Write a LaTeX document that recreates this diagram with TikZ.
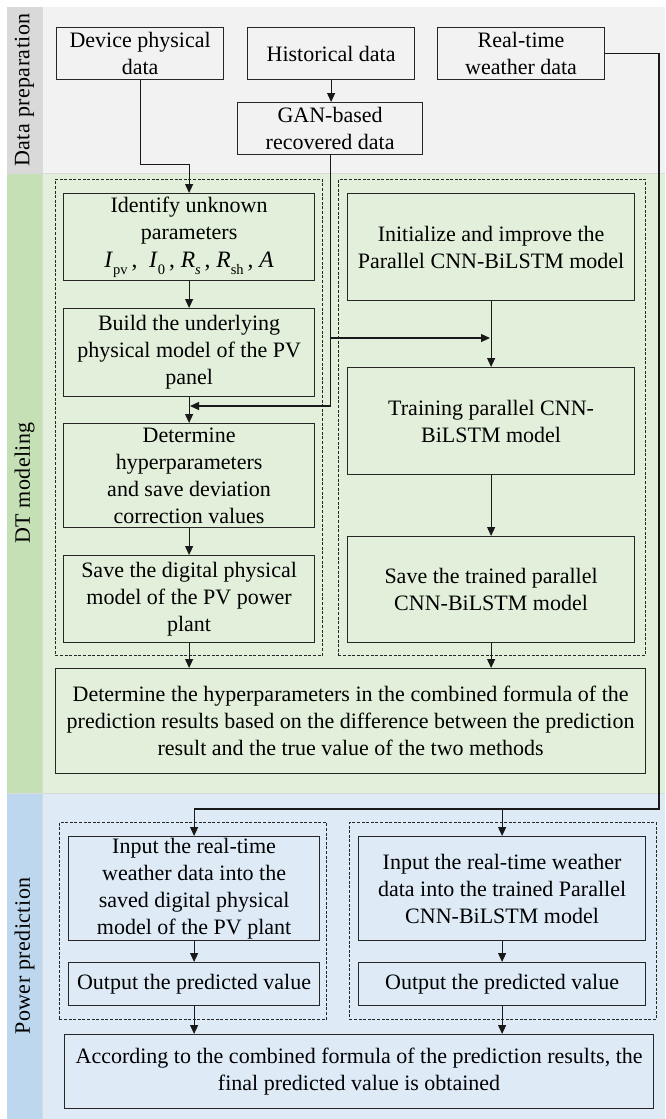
\documentclass[tikz,border=0pt]{standalone}
\usepackage{fontspec}
\setmainfont{Liberation Serif}
\usetikzlibrary{arrows.meta}

\definecolor{prepband}{HTML}{D9D9D9}
\definecolor{prepfill}{HTML}{F2F2F2}
\definecolor{dtband}{HTML}{C5E0B4}
\definecolor{dtfill}{HTML}{E2EFDA}
\definecolor{ppband}{HTML}{BDD7EE}
\definecolor{ppfill}{HTML}{DEEBF7}
\definecolor{edge}{HTML}{262626}

% lowered subscript for the parameter names
\newcommand{\lowsub}[1]{\raisebox{-0.32em}{\fontsize{14.5}{14.5}\selectfont #1}}

\begin{document}
\begin{tikzpicture}[x=1pt,y=-1pt,
  every node/.style={font=\fontsize{22}{27}\selectfont},
  stage/.style={draw=edge, line width=1.2pt, inner sep=1pt, align=center, anchor=north west},
  group/.style={draw=black!85, dash pattern=on 3pt off 1.6pt, line width=0.7pt, inner sep=0pt, anchor=north west},
  wire/.style={draw=black!90, line width=1.1pt},
  flow/.style={wire, -{Triangle[length=9pt,width=8pt]}},
  band/.style={font=\fontsize{22}{22}\selectfont\addfontfeature{LetterSpace=2}, rotate=90},
]
\useasboundingbox (0,0) rectangle (665,1119);

% section backgrounds
\fill[prepband] (7,7) rectangle (42,173);
\fill[prepfill] (42,7) rectangle (665,173);
\fill[dtband] (7,173) rectangle (42,793);
\fill[dtfill] (42,173) rectangle (665,793);
\fill[ppband] (7,793) rectangle (42,1119);
\fill[ppfill] (42,793) rectangle (665,1119);
\draw[white!70!gray, line width=0.6pt] (42,7) -- (42,1119);
\draw[white!70!gray, line width=0.6pt] (7,173) -- (665,173) (7,793) -- (665,793);

% section titles
\node[band] (tprep) at (24.5,90) {Data preparation};
\node[band] (tdt) at (24.5,483) {DT modeling};
\node[band] (tpp) at (24.5,956) {Power prediction};

% data preparation
\node[stage, minimum width=167pt, minimum height=52pt] (dev) at (56,27) {Device physical\\data};
\node[stage, minimum width=167pt, minimum height=52pt] (hist) at (247,27) {Historical data};
\node[stage, minimum width=167pt, minimum height=52pt] (rt) at (437,27) {Real-time\\weather data};
\node[stage, minimum width=185pt, minimum height=52pt] (gan) at (237,102) {GAN-based\\recovered data};

% DT modeling groups
\node[group, minimum width=267pt, minimum height=476pt] (grpphys) at (55,179) {};
\node[group, minimum width=307pt, minimum height=476pt] (grpnet) at (338,179) {};

\node[stage, minimum width=251pt, minimum height=87pt] (ident) at (63,193)
  {Identify unknown\\parameters\\[1pt]
   {\fontsize{23.5}{27}\selectfont\textit{I}\lowsub{pv}\,, \ \textit{I}\lowsub{0}\,, \textit{R}\lowsub{\textit{s}}\,, \textit{R}\lowsub{sh}\,, \textit{A}}};
\node[stage, minimum width=251pt, minimum height=88pt] (build) at (63,308)
  {Build the underlying\\physical model of the PV\\panel};
\node[stage, minimum width=251pt, minimum height=104pt] (determ) at (63,423)
  {Determine\\hyperparameters\\and save deviation\\correction values};
\node[stage, minimum width=251pt, minimum height=87pt] (savedig) at (63,555)
  {Save the digital physical\\model of the PV power\\plant};

\node[stage, minimum width=287pt, minimum height=107pt] (init) at (347,193)
  {Initialize and improve the\\Parallel CNN-BiLSTM model};
\node[stage, minimum width=287pt, minimum height=107pt] (train) at (347,367)
  {Training parallel CNN-\\BiLSTM model};
\node[stage, minimum width=287pt, minimum height=106pt] (savetr) at (347,536)
  {Save the trained parallel\\CNN-BiLSTM model};

\node[stage, minimum width=590pt, minimum height=105pt] (comb) at (55,668)
  {Determine the hyperparameters in the combined formula of the\\prediction results based on the difference between the prediction\\result and the true value of the two methods};

% power prediction groups
\node[group, minimum width=267pt, minimum height=197pt] (grpphyspred) at (59,822) {};
\node[group, minimum width=307pt, minimum height=197pt] (grpnetpred) at (349,822) {};

\node[stage, minimum width=251pt, minimum height=104pt] (inL) at (68,836)
  {Input the real-time\\weather data into the\\saved digital physical\\model of the PV plant};
\node[stage, minimum width=287pt, minimum height=104pt] (inR) at (358,836)
  {Input the real-time weather\\data into the trained Parallel\\CNN-BiLSTM model};
\node[stage, minimum width=251pt, minimum height=43pt] (outL) at (68,962) {Output the predicted value};
\node[stage, minimum width=287pt, minimum height=43pt] (outR) at (358,962) {Output the predicted value};
\node[stage, minimum width=589pt, minimum height=74pt] (final) at (64,1034)
  {According to the combined formula of the prediction results, the\\final predicted value is obtained};

% connector bend points
\coordinate (feedL) at (190,406);
\coordinate (feedR) at (490,338);
\coordinate (busR) at (659,809);

% data preparation flow
\draw[flow] (hist.south) -- (hist.south |- gan.north);
\draw[flow] (dev.south) -- ++(0,84) -| (ident.north);
\draw[flow] (gan.south) |- (feedL);
\draw[flow] (gan.south |- feedR) -- (feedR);

% physical model chain
\draw[flow] (ident) -- (build);
\draw[flow] (build) -- (determ);
\draw[flow] (determ) -- (savedig);
\draw[flow] (savedig.south) -- (savedig.south |- comb.north);

% network chain
\draw[flow] (init) -- (train);
\draw[flow] (train) -- (savetr);
\draw[flow] (savetr.south) -- (savetr.south |- comb.north);

% real-time weather feed into prediction
\draw[wire] (rt.east) -| (busR) -- (busR -| inL.north);
\draw[flow] (busR -| inL.north) -- (inL.north);
\draw[flow] (busR -| inR.north) -- (inR.north);

% prediction chain
\draw[flow] (inL) -- (outL);
\draw[flow] (inR) -- (outR);
\draw[flow] (outL.south) -- (outL.south |- final.north);
\draw[flow] (outR.south) -- (outR.south |- final.north);
\end{tikzpicture}
\end{document}
